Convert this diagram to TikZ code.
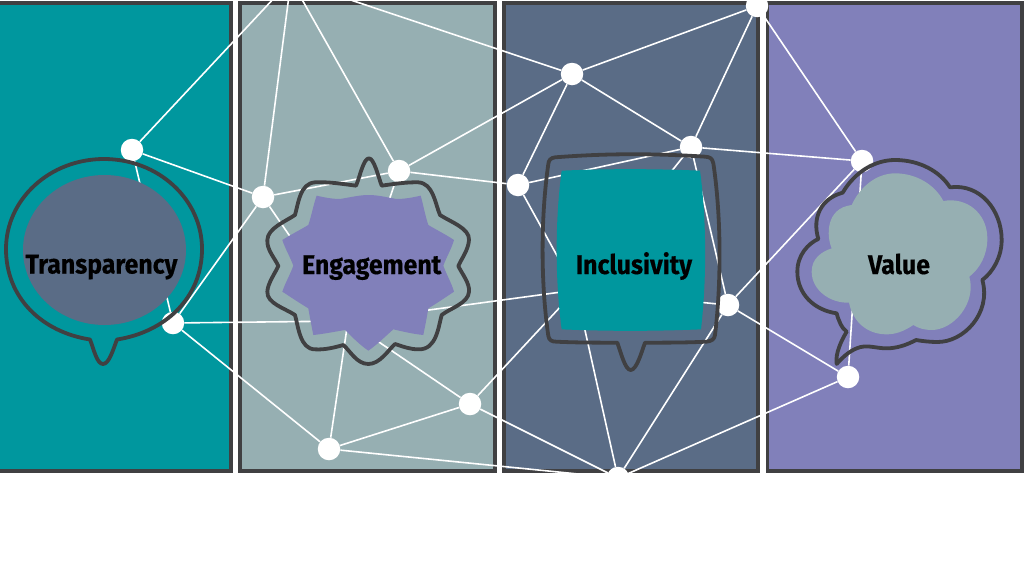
\documentclass[tikz,border=0pt]{standalone}
\usepackage{fontspec}
\newfontfamily\labfont[FakeStretch=0.92,FakeBold=0.35]{Fira Sans}
\definecolor{cteal}{RGB}{0,151,158}
\definecolor{csage}{RGB}{150,175,178}
\definecolor{cslate}{RGB}{90,108,134}
\definecolor{cpurple}{RGB}{129,128,186}
\definecolor{cedge}{RGB}{64,64,66}
\tikzset{
  panel/.style={draw=cedge,line width=3.1pt},
  dot/.style={circle,fill=white,draw=none,inner sep=0pt,minimum size=22.5pt},
  link/.style={white,line width=1.6pt},
  outline/.style={draw=cedge,line width=3.8pt,line join=round},
  word/.style={anchor=base,inner sep=0pt,text=black,font=\labfont\bfseries\fontsize{27}{30}\selectfont},
  zoomE/.style={shift={(250,140)},x=0.33333pt,y=-0.33333pt},
  zoomI/.style={shift={(520,140)},x=0.33333pt,y=-0.33333pt},
  zoomV/.style={shift={(780,140)},x=0.33333pt,y=-0.33333pt}
}
\begin{document}
\begin{tikzpicture}[x=1pt,y=-1pt]
\useasboundingbox (0,0) rectangle (1024,576);
\clip (0,0) rectangle (1024,576);
% panels
\path[panel,fill=cteal] (-6,3) rectangle (231,471);
\path[panel,fill=csage] (240,3) rectangle (495,471);
\path[panel,fill=cslate] (504,3) rectangle (758,471);
\path[panel,fill=cpurple] (767.5,3) rectangle (1022,471);
% network nodes
\node[dot] (A) at (132,150) {};
\node[dot] (B) at (173,323) {};
\node[dot] (C) at (263,197) {};
\node[dot] (D) at (399,171) {};
\node[dot] (E) at (329,449) {};
\node[dot] (F) at (470,404) {};
\node[dot] (G) at (572,74) {};
\node[dot] (H) at (518,185) {};
\node[dot] (I) at (691,147) {};
\node[dot] (J) at (757,6) {};
\node[dot] (K) at (728,305) {};
\node[dot] (L) at (862,161) {};
\node[dot] (M) at (848,377) {};
\node[dot] (N) at (618,478) {};
\coordinate (T) at (291,-20);
\coordinate (X) at (576,290);
\coordinate (Y) at (348,321);
% connectors
\foreach \a/\b in {A/T,A/C,A/B,B/C,B/Y,B/E,C/T,C/D,C/Y,D/T,D/G,D/H,D/Y,
  E/Y,E/F,E/N,F/Y,F/X,F/N,G/T,G/H,G/I,G/J,H/I,H/X,I/J,I/L,I/X,I/K,
  J/L,K/X,K/L,K/M,K/N,L/M,M/N,N/X,X/Y}
  \draw[link] (\a) -- (\b);
% Transparency
\fill[cslate] (104.5,250) ellipse [x radius=81.5,y radius=75];
\path[outline] (117,339.5) .. controls (165,332) and (202,298) .. (202,249)
  .. controls (202,199) and (158,159) .. (104,159)
  .. controls (50,159) and (6,199) .. (6,249)
  .. controls (6,298) and (42,332) .. (90,339.5)
  .. controls (94,350) and (97,364) .. (103,364)
  .. controls (109,364) and (113,350) .. (117,339.5) -- cycle;
% Engagement
\begin{scope}[zoomE]
\fill[cpurple] (200,167) .. controls (225,173) and (250,177) .. (270,177)
  .. controls (300,172) and (330,165) .. (355,165)
  .. controls (385,165) and (410,172) .. (440,177)
  .. controls (465,177) and (490,172) .. (512,167)
  .. controls (520,195) and (525,225) .. (535,255)
  .. controls (560,270) and (590,285) .. (612,300)
  .. controls (605,325) and (590,350) .. (580,377)
  .. controls (590,405) and (605,430) .. (612,455)
  .. controls (590,470) and (560,490) .. (535,505)
  .. controls (530,535) and (525,560) .. (520,585)
  .. controls (490,582) and (460,575) .. (430,568)
  .. controls (405,590) and (380,615) .. (355,632)
  .. controls (330,615) and (305,590) .. (285,570)
  .. controls (255,575) and (220,582) .. (190,585)
  .. controls (185,560) and (180,535) .. (175,505)
  .. controls (150,490) and (120,470) .. (97,455)
  .. controls (105,430) and (120,405) .. (130,377)
  .. controls (120,350) and (105,325) .. (97,300)
  .. controls (120,285) and (150,270) .. (175,255)
  .. controls (185,225) and (190,195) .. (200,167) -- cycle;
\path[outline] (395,137) .. controls (430,132) and (470,126) .. (505,127)
  .. controls (550,130) and (555,190) .. (570,225)
  .. controls (600,245) and (660,265) .. (657,300)
  .. controls (655,330) and (635,355) .. (625,378)
  .. controls (635,400) and (660,430) .. (657,455)
  .. controls (655,490) and (600,505) .. (575,525)
  .. controls (565,560) and (560,630) .. (505,628)
  .. controls (480,628) and (460,620) .. (435,612)
  .. controls (415,630) and (390,672) .. (355,672)
  .. controls (320,672) and (300,632) .. (280,615)
  .. controls (255,622) and (225,630) .. (195,628)
  .. controls (150,628) and (145,560) .. (135,525)
  .. controls (105,505) and (50,490) .. (52,455)
  .. controls (53,430) and (75,400) .. (85,378)
  .. controls (75,355) and (50,330) .. (52,300)
  .. controls (53,265) and (105,245) .. (135,225)
  .. controls (145,190) and (150,130) .. (195,127)
  .. controls (235,125) and (280,132) .. (318,137)
  .. controls (330,110) and (340,55) .. (357,55)
  .. controls (372,55) and (385,110) .. (395,137) -- cycle;
\end{scope}
% Inclusivity
\begin{scope}[zoomI]
\fill[cteal] (125,92) .. controls (260,86) and (400,86) .. (540,92)
  .. controls (560,240) and (560,420) .. (543,568)
  .. controls (400,574) and (260,574) .. (125,568)
  .. controls (105,420) and (105,240) .. (125,92) -- cycle;
\path[outline] (375,608) .. controls (440,608) and (500,608) .. (560,605)
  .. controls (575,603) and (583,598) .. (585,585)
  .. controls (604,430) and (604,230) .. (580,70)
  .. controls (577,55) and (570,51) .. (555,50)
  .. controls (400,40) and (260,40) .. (105,52)
  .. controls (92,54) and (86,60) .. (85,72)
  .. controls (62,230) and (62,430) .. (85,588)
  .. controls (87,600) and (95,605) .. (108,605)
  .. controls (170,608) and (230,608) .. (292,608)
  .. controls (302,635) and (315,690) .. (332,690)
  .. controls (350,690) and (365,635) .. (375,608) -- cycle;
\end{scope}
% Value
\begin{scope}[zoomV]
\fill[csage] (490,183) .. controls (560,170) and (622,220) .. (622,295)
  .. controls (622,345) and (600,385) .. (568,410)
  .. controls (590,490) and (520,570) .. (455,570)
  .. controls (435,570) and (415,565) .. (400,555)
  .. controls (370,575) and (345,583) .. (320,583)
  .. controls (265,583) and (220,550) .. (207,488)
  .. controls (150,490) and (95,450) .. (95,395)
  .. controls (95,355) and (125,335) .. (155,325)
  .. controls (140,290) and (135,205) .. (215,195)
  .. controls (240,140) and (290,100) .. (345,100)
  .. controls (410,100) and (465,135) .. (490,183) -- cycle;
\path[outline] (510,142) .. controls (600,130) and (665,210) .. (665,300)
  .. controls (665,350) and (640,395) .. (607,420)
  .. controls (635,520) and (550,608) .. (470,606)
  .. controls (450,606) and (425,603) .. (408,600)
  .. controls (380,615) and (350,625) .. (320,625)
  .. controls (285,625) and (260,612) .. (230,625)
  .. controls (205,635) and (185,655) .. (170,672)
  .. controls (165,640) and (185,600) .. (200,575)
  .. controls (185,565) and (175,540) .. (170,520)
  .. controls (100,510) and (52,460) .. (52,395)
  .. controls (52,345) and (85,310) .. (115,297)
  .. controls (95,230) and (125,175) .. (188,158)
  .. controls (225,95) and (285,60) .. (345,60)
  .. controls (420,60) and (480,95) .. (510,142) -- cycle;
\end{scope}
% labels
\node[word] (t1) at (101.5,273.5) {Transparency};
\node[word] (t2) at (371.7,274) {Engagement};
\node[word] (t3) at (634,274) {Inclusivity};
\node[word] (t4) at (899,274) {Value};
\end{tikzpicture}
\end{document}
